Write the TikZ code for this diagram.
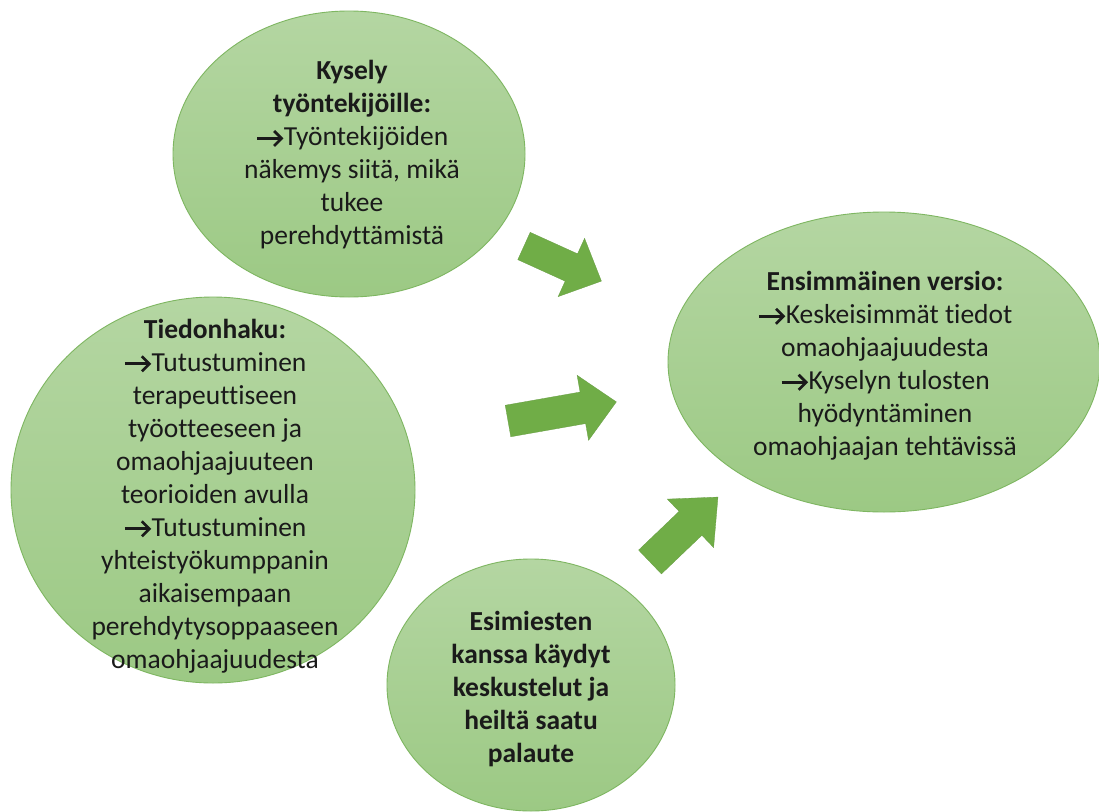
\documentclass[tikz,border=0pt]{standalone}
\usepackage{fontspec}
\setmainfont[Ligatures=NoCommon]{Carlito}
\usetikzlibrary{shapes.geometric}
\definecolor{bubtop}{HTML}{B4D6A2}
\definecolor{bubbot}{HTML}{9CC984}
\definecolor{bubline}{HTML}{7EB661}
\definecolor{arrfill}{HTML}{70AD47}
\definecolor{txt}{HTML}{1A1A1A}
\newcommand{\ra}{\tikz[x=1pt,y=1pt,baseline=0pt]{\draw[txt, line width=2.7pt] (0,7.5) -- (24.5,7.5); \draw[txt, line width=2.7pt, miter limit=10] (17,0) -- (24.5,7.5) -- (17,15);}\hspace{1pt}}
\begin{document}
\begin{tikzpicture}[x=1pt,y=-1pt,
  bubble/.style={ellipse, inner sep=0pt, draw=bubline, line width=0.9pt, top color=bubtop, bottom color=bubbot},
  label/.style={align=center, text=txt, inner sep=0pt, font={\fontsize{27.5}{33}\selectfont}},
  blockarrow/.style={fill=arrfill, draw=arrfill!90!black, line width=0.3pt}]
\useasboundingbox (0,0) rectangle (1099,811);
\fill[white] (0,0) rectangle (1099,811);
% bubbles
\node[bubble, minimum width=352pt, minimum height=286pt] (c1) at (349,154) {};
\node[bubble, minimum width=404pt, minimum height=386pt] (c2) at (213,490) {};
\node[bubble, minimum width=288pt, minimum height=252pt] (c3) at (531,685) {};
\node[bubble, minimum width=432pt, minimum height=300pt] (c4) at (884,362) {};
% texts
\node[label] (t1) at (352,155) {\textbf{Kysely}\\\textbf{työntekijöille:}\\\ra Työntekijöiden\\näkemys siitä, mikä\\tukee\\perehdyttämistä};
\node[label] (t2) at (215,496) {\textbf{Tiedonhaku:}\\\ra Tutustuminen\\terapeuttiseen\\työotteeseen ja\\omaohjaajuuteen\\teorioiden avulla\\\ra Tutustuminen\\yhteistyökumppanin\\aikaisempaan\\perehdytysoppaaseen\\omaohjaajuudesta};
\node[label, font={\fontsize{27.5}{33}\selectfont\bfseries}] (t3) at (531,689) {Esimiesten\\kanssa käydyt\\keskustelut ja\\heiltä saatu\\palaute};
\node[label] (t4) at (885,366) {\textbf{Ensimmäinen versio:}\\\ra Keskeisimmät tiedot\\omaohjaajuudesta\\\ra Kyselyn tulosten\\hyödyntäminen\\omaohjaajan tehtävissä};
% block arrows
\begin{scope}[shift={(524,246)}, rotate=-24.4]
\fill[blockarrow] (0,-15) -- (52,-15) -- (52,-32) -- (85,0) -- (52,32) -- (52,15) -- (0,15) -- cycle;
\end{scope}
\begin{scope}[shift={(508,421)}, rotate=10]
\fill[blockarrow] (0,-16) -- (76,-16) -- (76,-33) -- (110,0) -- (76,33) -- (76,16) -- (0,16) -- cycle;
\end{scope}
\begin{scope}[shift={(650,562)}, rotate=43.7]
\fill[blockarrow] (0,-16.5) -- (56,-16.5) -- (56,-33.5) -- (94,0) -- (56,33.5) -- (56,16.5) -- (0,16.5) -- cycle;
\end{scope}
\end{tikzpicture}
\end{document}
